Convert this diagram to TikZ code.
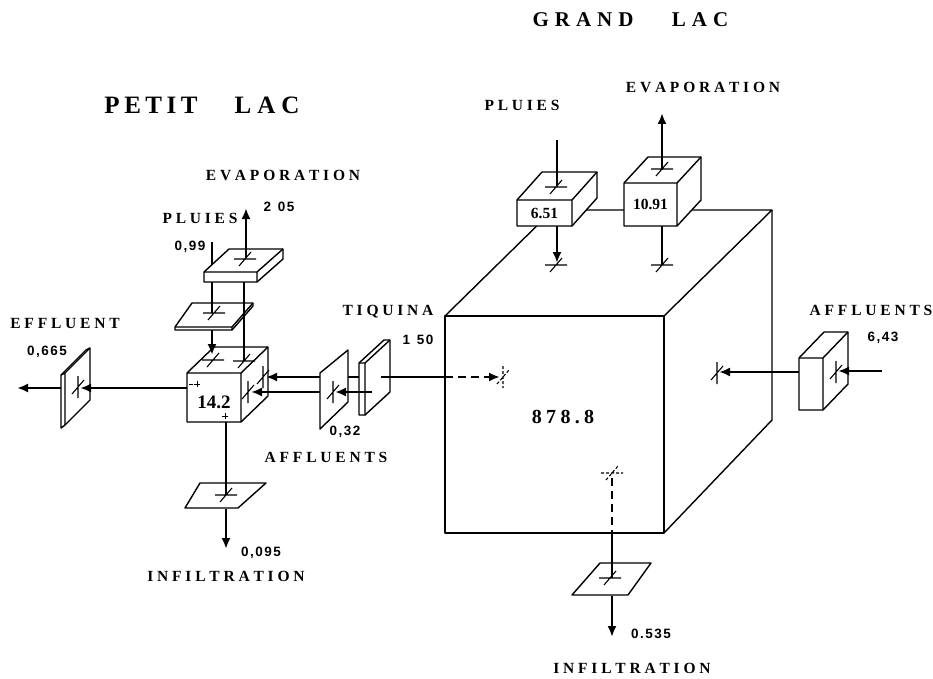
\documentclass[tikz,border=0pt]{standalone}
\usepackage{graphicx}
\usepackage{fontspec}
\setmainfont{Liberation Serif}
\newfontfamily\numfont{Liberation Sans}
\usetikzlibrary{arrows.meta,calc}
\newdimen\lsp
\def\spaced#1{\spauxx#1\relax\unkern}
\def\spauxx#1{\ifx#1\relax\else#1\kern\lsp\expandafter\spauxx\fi}
\newcommand\mylbl[2][3.8pt]{{\lsp=#1\relax\bfseries\fontsize{15.5}{17}\selectfont\spaced{#2}}}
\newcommand\mytitle[3]{{\lsp=#2\relax\bfseries\fontsize{#1}{#1}\selectfont\spaced{#3}}}
\newcommand\mynum[1]{{\lsp=1.5pt\relax\numfont\bfseries\fontsize{13.5}{15}\selectfont\spaced{#1}}}
\newcommand\boxval[2][15.5]{{\bfseries\fontsize{#1}{#1}\selectfont #2}}
\newcommand\cuboid[6]{%
  \filldraw[outl,fill=white] (#1,#2) -- ++(#5,#6) -- ++(#3-#1,0) -- ++(0,#4-#2) -- (#3,#4) -- (#1,#4) -- cycle;
  \draw[outl] (#1,#2) -- (#3,#2) -- (#3,#4) (#3,#2) -- ++(#5,#6);}
\tikzset{
  outl/.style={line width=1.4pt,line join=round},
  flow/.style={line width=2.8pt},
  flowarr/.style={flow,-{Latex[length=11pt,width=9pt]}},
  lab/.style={inner sep=0pt,anchor=center},
  tkh/.pic={\draw[line width=1.1pt] (-11,0)--(11,0) (-6,7)--(6,-7);},
  tkv/.pic={\draw[line width=1.1pt] (0,-11)--(0,11) (-6,7)--(6,-7);},
  tks/.pic={\draw[line width=1pt] (-4,0)--(4,0) (0,-4)--(0,4);},
  dsh/.style={dash pattern=on 3pt off 2pt},
  dshl/.style={dash pattern=on 8pt off 5pt},
}
\begin{document}
\begin{tikzpicture}[x=1pt,y=-1pt]
\path[use as bounding box] (0,0) rectangle (933,679);

% ---------------- titles
\node[lab] (tGrand) at (583,20) {\mytitle{21}{6pt}{GRAND}};
\node[lab] (tLacG) at (700,20) {\mytitle{21}{6pt}{LAC}};
\node[lab] (tPetit) at (151,105) {\mytitle{25}{4.5pt}{PETIT}};
\node[lab] (tLacP) at (267,105) {\mytitle{25}{6pt}{LAC}};

% ================= GRAND LAC
% big cube
\draw[outl] (445,316) rectangle (664,533);
\draw[outl] (445,316) -- (553,210) -- (772,210) -- (664,316);
\draw[outl] (772,210) -- (772,420) -- (664,533);
\node[lab] (vGrand) at (563,417) {\mytitle{20}{4.3pt}{878.8}};

% boxes on top
\cuboid{517}{200}{572}{226}{25}{-28}
\node[lab] (vPl) at (544.5,213) {\boxval{6.51}};
\cuboid{624}{183}{677}{226}{24}{-26}
\node[lab] (vEv) at (650.5,204.5) {\boxval{10.91}};

% pluies (grand lac)
\coordinate (gpA) at (557,140);
\coordinate (gpB) at (557,186);
\coordinate (gpC) at (557,226);
\coordinate (gpD) at (557,263);
\draw[flow] (gpA) -- (gpB);
\pic at (556,187) {tkh};
\draw[flowarr] (gpC) -- (gpD);
\pic at (556,265) {tkh};
\node[lab] (tPlG) at (522,105) {\mylbl{PLUIES}};

% evaporation (grand lac)
\coordinate (geA) at (662,265);
\coordinate (geB) at (662,226);
\coordinate (geC) at (662,170);
\coordinate (geD) at (662,113);
\draw[flow] (geA) -- (geB);
\draw[flowarr] (geC) -- (geD);
\pic at (662,265) {tkh};
\pic at (662,169) {tkh};
\node[lab] (tEvG) at (703,87) {\mylbl{EVAPORATION}};

% affluents (grand lac)
\cuboid{799}{358}{823}{410}{25}{-26}
\coordinate (gaA) at (882,371);
\coordinate (gaB) at (838,371);
\coordinate (gaC) at (799,372);
\coordinate (gaD) at (719,372);
\draw[flowarr] (gaA) -- (gaB);
\pic at (836,372) {tkv};
\draw[flowarr] (gaC) -- (gaD);
\pic at (717,373) {tkv};
\node[lab] (tAfG) at (871,310) {\mylbl{AFFLUENTS}};
\node[lab] (nAfG) at (883,338) {\mynum{6,43}};

% tiquina inflow (dashed inside)
\coordinate (gtA) at (381,377);
\coordinate (gtB) at (445,377);
\coordinate (gtC) at (500,377);

% infiltration (grand lac)
\filldraw[outl,fill=white] (600,563) -- (651,563) -- (628,595) -- (572,595) -- cycle;
\coordinate (giA) at (612,478);
\coordinate (giB) at (612,533);
\coordinate (giC) at (612,578);
\coordinate (giD) at (612,596);
\coordinate (giE) at (612,637);
\draw[flow,dshl] (giA) -- (giB);
\draw[flow] (giB) -- (giC);
\pic[dsh] at (612,473) {tkh};
\pic at (610,578) {tkh};
\draw[flowarr] (giD) -- (giE);
\node[lab] (nInG) at (651,634) {\mynum{0.535}};
\node[lab] (tInG) at (632,668) {\mylbl{INFILTRATION}};

% ================= PETIT LAC
% small cube
\cuboid{187}{373}{241}{422}{27}{-26}
\node[lab] (vPetit) at (214,402) {\boxval[19]{14.2}};
\pic[scale=0.8] at (197,384) {tks};
\draw[line width=1pt] (189,384) -- (193,384);
\pic[scale=0.8] at (225,416) {tks};

% upper slab (evaporation)
\coordinate (ppA) at (212,242);
\coordinate (ppB) at (212,282);
\draw[flow] (ppA) -- (ppB);
\filldraw[outl,fill=white] (204,272) -- (229,249) -- (283,249) -- (283,259) -- (257,282) -- (204,282) -- cycle;
\draw[outl] (204,272) -- (257,272) -- (257,282) (257,272) -- (283,249);
% thin plate (pluies)
\filldraw[outl,fill=white] (175,327) -- (192,303) -- (253,303) -- (253,306) -- (232,330) -- (175,330) -- cycle;
\draw[outl] (175,327) -- (232,327) -- (232,330) (232,327) -- (253,303);

\coordinate (ppC) at (212,313);
\coordinate (ppD) at (212,330);
\coordinate (ppE) at (212,355);
\draw[flow] (ppB) -- (ppC);
\pic at (214,313) {tkh};
\draw[flowarr] (ppD) -- (ppE);
\pic at (213,360) {tkh};
\coordinate (prA) at (244,282);
\coordinate (prB) at (244,361);
\draw[flow] (prA) -- (prB);
\pic at (244,361) {tkh};
\node[lab] (tPlP) at (200,218) {\mylbl{PLUIES}};
\node[lab] (nPlP) at (190,247) {\mynum{0,99}};

\coordinate (peA) at (246,258);
\coordinate (peB) at (246,208);
\draw[flowarr] (peA) -- (peB);
\pic at (245,259) {tkh};
\node[lab] (tEvP) at (283,175) {\mylbl{EVAPORATION}};
\node[lab] (nEvP) at (279,207) {\mynum{2\ 05}};

% effluent
\filldraw[outl,fill=white] (61,375) -- (86,350) -- (90,348) -- (90,400) -- (65,425) -- (61,428) -- cycle;
\draw[outl] (61,375) -- (65,373) -- (90,348) (65,373) -- (65,425);
\coordinate (pfA) at (187,388);
\coordinate (pfB) at (80,388);
\coordinate (pfC) at (61,388);
\coordinate (pfD) at (17,388);
\draw[flowarr] (pfA) -- (pfB);
\pic at (78,387) {tkv};
\draw[flowarr] (pfC) -- (pfD);
\node[lab] (tEf) at (65,323) {\mylbl{EFFLUENT}};
\node[lab] (nEf) at (47,352) {\mynum{0,665}};

% tiquina -> small cube (upper line, behind 0.32 plate)
\coordinate (ptA) at (359,377);
\coordinate (ptB) at (266,377);
\draw[flowarr] (ptA) -- (ptB);
\pic at (263,377) {tkv};
% 0.32 plate
\filldraw[outl,fill=white] (320,373) -- (348,350) -- (348,402) -- (320,429) -- cycle;
% tiquina slab
\filldraw[outl,fill=white] (359,363) -- (384,340) -- (390,340) -- (390,392) -- (365,415) -- (359,415) -- cycle;
\draw[outl] (359,363) -- (365,363) -- (365,415) (365,363) -- (390,340);
\draw[flow] (gtA) -- (gtB);
\draw[flowarr,dshl] (gtB) -- (gtC);
\pic[dsh] at (503,377) {tkv};
\node[lab] (tTi) at (388,312) {\mylbl{TIQUINA}};
\node[lab] (nTi) at (418,340) {\mynum{1\ 50}};

% affluents 0.32 (lower line)
\coordinate (paA) at (372,392);
\coordinate (paB) at (335,392);
\coordinate (paC) at (320,392);
\coordinate (paD) at (251,392);
\draw[flowarr] (paA) -- (paB);
\pic at (333,392) {tkv};
\draw[flowarr] (paC) -- (paD);
\pic at (248,392) {tkv};
\node[lab] (nAfP) at (345,432) {\mynum{0,32}};
\node[lab] (tAfP) at (326,457) {\mylbl{AFFLUENTS}};

% infiltration (petit lac)
\filldraw[outl,fill=white] (200,483) -- (266,483) -- (238,508) -- (185,508) -- cycle;
\coordinate (piA) at (226,422);
\coordinate (piB) at (226,495);
\coordinate (piC) at (226,509);
\coordinate (piD) at (226,549);
\draw[flow] (piA) -- (piB);
\pic at (226,495) {tkh};
\draw[flowarr] (piC) -- (piD);
\node[lab] (nInP) at (261,553) {\mynum{0,095}};
\node[lab] (tInP) at (226,576) {\mylbl{INFILTRATION}};
\end{tikzpicture}
\end{document}
